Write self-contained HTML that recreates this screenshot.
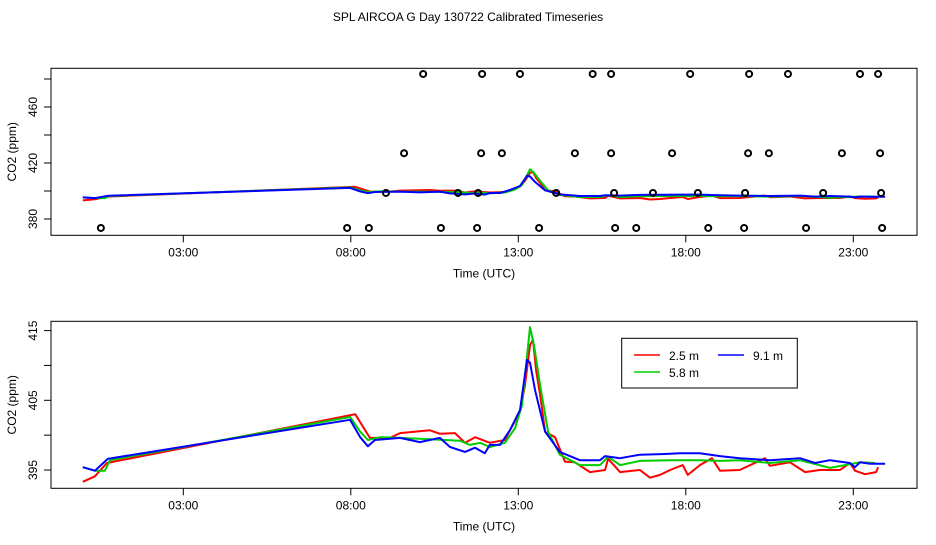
<!DOCTYPE html>
<html><head><meta charset="utf-8"><style>
body{margin:0;background:#fff;}
svg text{font-family:"Liberation Sans",sans-serif;font-size:12px;fill:#000;}
</style></head><body>
<svg id="c" width="936" height="540" xmlns="http://www.w3.org/2000/svg">
<text x="468" y="21" text-anchor="middle">SPL AIRCOA G  Day 130722  Calibrated Timeseries</text>
</svg>
<script>
const xTickHours=[3,8,13,18,23];
const xTickLabels=["03:00","08:00","13:00","18:00","23:00"];
const topYTicks=[380,400,420,440,460,480];
const topYLabels=["380","","420","","460",""];
const botYTicks=[395,400,405,410,415];
const botYLabels=["395","","405","","415"];
const redHours=[0,0.36,0.72,8.13,8.57,9.17,9.47,10.36,10.66,11.11,11.41,11.71,12.15,12.6,12.75,13.05,13.2,13.35,13.44,13.53,13.65,13.8,14.1,14.39,14.69,15.14,15.59,15.68,16.04,16.63,16.93,17.23,17.53,17.91,18.06,18.42,18.78,19.02,19.61,20.36,20.51,21.11,21.56,22.0,22.6,22.9,23.05,23.35,23.68,23.74];
const redValues=[393.3,394.1,396.0,403.0,399.6,399.6,400.3,400.7,400.2,400.3,398.9,399.7,398.9,399.3,400.7,403.3,407.2,412.9,413.7,409.3,405.8,400.5,399.7,396.2,396.1,394.7,395.0,396.6,394.7,395.0,393.9,394.3,395.0,395.7,394.3,395.7,396.7,394.9,395.0,396.7,395.6,396.1,394.7,395.0,395.0,396.0,394.9,394.4,394.7,395.4];
const greenHours=[0,0.36,0.66,0.81,7.98,8.28,8.51,8.87,9.47,10.36,11.26,11.56,11.86,12.15,12.6,12.9,13.11,13.35,13.47,13.65,13.89,14.24,14.84,15.44,15.68,16.04,16.63,17.53,18.42,19.02,19.61,20.51,21.41,22.3,23.2,23.65];
const greenValues=[395.4,394.9,394.9,396.4,402.6,400.5,399.3,399.7,399.6,399.4,399.2,398.6,398.9,398.3,398.9,401.0,404.3,415.5,412.9,407.2,400.5,397.2,395.7,395.7,396.9,395.7,396.3,396.4,396.4,396.3,396.4,396.0,396.4,395.3,396.1,396.0];
const blueHours=[0,0.36,0.75,7.98,8.28,8.51,8.72,9.47,10.06,10.66,10.96,11.41,11.71,12.0,12.15,12.45,12.75,13.05,13.26,13.35,13.5,13.8,14.24,14.84,15.44,15.59,16.04,16.63,17.38,17.83,18.42,19.02,19.61,20.51,21.41,21.86,22.3,22.9,23.05,23.2,23.5,23.95];
const blueValues=[395.4,394.9,396.6,402.2,399.7,398.4,399.3,399.6,399.0,399.6,398.3,397.6,398.2,397.4,398.6,398.6,400.7,403.6,410.8,410.4,406.5,400.5,397.6,396.4,396.4,397.0,396.7,397.2,397.3,397.4,397.4,397.0,396.7,396.4,396.7,396.0,396.4,396.0,395.4,396.1,395.9,395.9];
const circleHours=[10.16,11.92,13.05,15.22,15.77,18.13,19.89,21.05,23.2,23.74,9.59,11.89,12.51,14.69,15.77,17.59,19.86,20.48,22.66,23.8,9.05,11.2,11.8,14.13,15.86,17.02,18.36,19.77,22.1,23.83,0.54,7.89,8.54,10.69,11.77,13.62,15.89,16.52,18.67,19.74,21.59,23.86];
const circleValues=[483.6,483.6,483.6,483.6,483.6,483.6,483.6,483.6,483.6,483.6,427,427,427,427,427,427,427,427,427,427,398.6,398.6,398.6,398.6,398.6,398.6,398.6,398.6,398.6,398.6,373.6,373.6,373.6,373.6,373.6,373.6,373.6,373.6,373.6,373.6,373.6,373.6];

const svg=document.getElementById('c');
const NS='http://www.w3.org/2000/svg';
function mk(tag,attrs,parent){const e=document.createElementNS(NS,tag);for(const k in attrs)e.setAttribute(k,attrs[k]);(parent||svg).appendChild(e);return e;}
const xS=h=>82.8+h*33.5;
const panels=[
 {top:68.3,bot:235.3,y:v=>219+(380-v)*1.4,ticks:topYTicks,labels:topYLabels,name:'top'},
 {top:321.3,bot:488.3,y:v=>470+(395-v)*6.97,ticks:botYTicks,labels:botYLabels,name:'bottom'}
];
panels.forEach(p=>{
 const g=mk('g',{});
 
 
 const box=mk('rect',{x:51,y:p.top,width:866,height:p.bot-p.top,fill:'none',stroke:'#000','stroke-width':1},g);
 
 
 xTickHours.forEach((h,i)=>{
  const x=xS(h);
  mk('line',{x1:x,x2:x,y1:p.bot,y2:p.bot+7,stroke:'#000'},g);
  const t=mk('text',{x:x,y:p.bot+21,'text-anchor':'middle'},g);t.textContent=xTickLabels[i];
  
  
 });
 p.ticks.forEach((v,i)=>{
  const y=p.y(v);
  mk('line',{x1:44,x2:51,y1:y,y2:y,stroke:'#000'},g);
  if(p.labels[i]){const t=mk('text',{x:37,y:y,'text-anchor':'middle',transform:`rotate(-90 37 ${y})`},g);t.textContent=p.labels[i];
  
  }
 });
 const xl=mk('text',{x:484,y:p.bot+42,'text-anchor':'middle'},g);xl.textContent='Time (UTC)';
 
 
 const my=(p.top+p.bot)/2;
 const yl=mk('text',{x:16,y:my,'text-anchor':'middle',transform:`rotate(-90 16 ${my})`},g);yl.textContent='CO2 (ppm)';
 
 
 [[redHours,redValues,'#ff0000','red'],[greenHours,greenValues,'#00cd00','green'],[blueHours,blueValues,'#0000ff','blue']].forEach(s=>{
  const pts=s[0].map((h,i)=>xS(h).toFixed(1)+','+p.y(s[1][i]).toFixed(1)).join(' ');
  const l=mk('polyline',{points:pts,fill:'none',stroke:s[2],'stroke-width':2,'stroke-linejoin':'round'},g);
  
  
 });
 if(p.name==='top'){
  circleHours.forEach((h,i)=>{
   const c=mk('circle',{cx:xS(h),cy:p.y(circleValues[i]),r:3,fill:'none',stroke:'#000','stroke-width':2},g);
   
   
  });
 }
});
// legend
const lg=mk('g',{});


mk('rect',{x:621.7,y:338.3,width:175.6,height:49.7,fill:'#fff',stroke:'#000'},lg);
[[634,355,'#ff0000','2.5 m'],[718,355,'#0000ff','9.1 m'],[634,372,'#00cd00','5.8 m']].forEach(e=>{
 const it=mk('g',{},lg);
 
 
 mk('line',{x1:e[0],x2:e[0]+26,y1:e[1],y2:e[1],stroke:e[2],'stroke-width':1.5},it);
 const t=mk('text',{x:e[0]+35,y:e[1]+5},it);t.textContent=e[3];
});
</script>
</body></html>
